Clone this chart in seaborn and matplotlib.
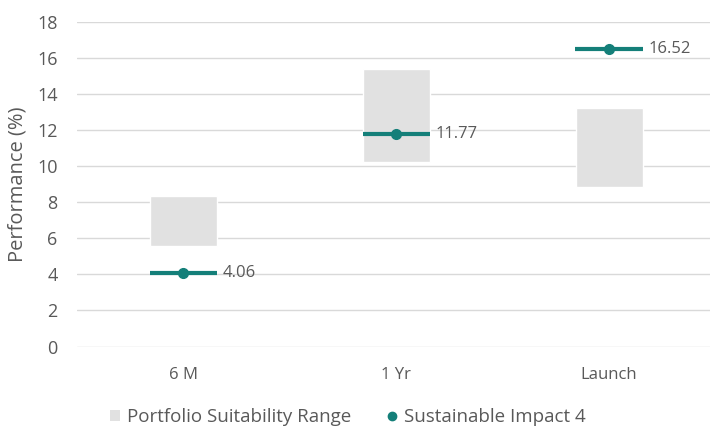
import numpy as np
import pandas as pd
import seaborn as sns
import matplotlib.pyplot as plt
from matplotlib.lines import Line2D
from matplotlib.patches import Patch

categories = ["6 M", "1 Yr", "Launch"]
range_low = [5.57, 10.25, 8.83]
range_high = [8.35, 15.37, 13.21]
impact = [4.06, 11.77, 16.52]

df = pd.DataFrame({
    "period": categories,
    "low": range_low,
    "span": np.array(range_high) - np.array(range_low),
    "impact": impact,
})

sns.set_style("white")
plt.rcParams["font.family"] = ["Open Sans", "DejaVu Sans"]

grey = "#e1e1e1"
teal = "#147f79"
txt = "#595959"

fig = plt.figure(figsize=(7.1, 4.3), dpi=100)
ax = fig.add_axes([77 / 710, 1 - 346.5 / 430, 633 / 710, 324.5 / 430])

# floating bars for the suitability range
sns.barplot(data=df, x="period", y="span", bottom=df["low"], color=grey,
            width=0.315, saturation=1, ax=ax, zorder=2)

pos = np.arange(len(categories))
ax.errorbar(pos, df["impact"], xerr=0.158, fmt="o", color=teal, ms=7,
            elinewidth=3, capsize=0, zorder=3)
for x, v in zip(pos, df["impact"]):
    ax.annotate(f"{v:.2f}", (x + 0.158, v), xytext=(4, 0), textcoords="offset points",
                va="center", ha="left", fontsize=12, color=txt)

ax.set_ylim(0, 18)
ax.set_yticks(range(0, 19, 2))
ax.set_xlim(-0.5, 2.474)
ax.grid(axis="y", color="#d9d9d9", lw=1, zorder=0)
ax.set_axisbelow(True)
sns.despine(ax=ax, left=True, bottom=True)
ax.tick_params(axis="both", length=0, labelsize=12, labelcolor=txt)
ax.tick_params(axis="y", pad=14, labelsize=13)
ax.tick_params(axis="x", pad=15)
ax.set_xlabel("")
ax.set_ylabel("Performance (%)", fontsize=14.5, color=txt)
ax.yaxis.set_label_coords(-0.078, 0.5)

handles = [
    Patch(facecolor=grey, edgecolor="none", label="Portfolio Suitability Range"),
    Line2D([], [], marker="o", color=teal, lw=0, ms=6, label="Sustainable Impact 4"),
]
fig.legend(handles=handles, loc="center", bbox_to_anchor=(0.49, 1 - 417 / 430), ncol=2,
           frameon=False, fontsize=13.5, labelcolor=txt, handlelength=0.5,
           handleheight=0.5, handletextpad=0.4, columnspacing=1.9)

fig.savefig("out.png", dpi=100)
